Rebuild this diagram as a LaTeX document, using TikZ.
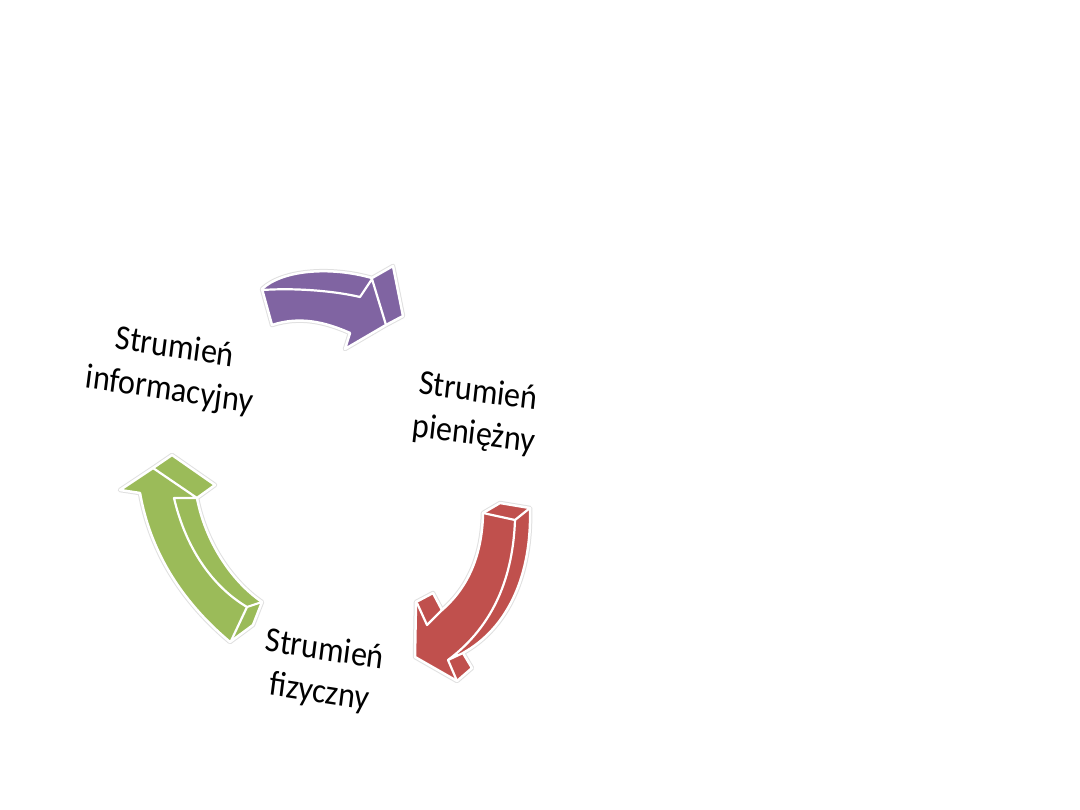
\documentclass[tikz,border=0pt]{standalone}
\usepackage{fontspec}
\setmainfont{Carlito}
\definecolor{purp}{RGB}{128,100,162}
\definecolor{redc}{RGB}{192,80,77}
\definecolor{grn}{RGB}{155,187,89}
\begin{document}
\begin{tikzpicture}[x=1pt,y=-1pt,
  halo/.style={draw=black!12,line width=4.5pt,line join=round},
  body/.style={draw=white,line width=2.5pt,line join=round,preaction={halo}},
  facet/.style={draw=white,line width=2.2pt,line join=round,line cap=round},
  lbl/.style={align=center,inner sep=0pt,yscale=1.1,font=\fontsize{32}{39}\selectfont}]
\useasboundingbox (0,0) rectangle (1080,810);
\fill[white] (0,0) rectangle (1080,810);

% purple arrow (top)
\path[fill=purp,body] (262,289) -- (272,325)
  .. controls (300,316) and (325,322) .. (350,333)
  -- (345,349) -- (386,325) -- (403,316) -- (393,266) -- (372,278)
  .. controls (330,266) and (282,270) .. cycle;
\draw[facet] (263,290) .. controls (290,288) and (330,290) .. (360,297)
  -- (372,279) -- (386,325);

% red arrow (right)
\path[fill=redc,body] (483,513) -- (500,503) -- (530,508)
  .. controls (532,575) and (508,628) .. (463,653)
  -- (472,668) -- (457,681) -- (415,657) -- (416,602) -- (433,593) -- (442,610)
  .. controls (465,590) and (482,560) .. cycle;
\draw[facet] (483,513) -- (515,520) -- (530,508);
\draw[facet] (515,520) .. controls (513,575) and (495,625) .. (448,660)
  -- (463,653);
\draw[facet] (448,660) -- (457,681);
\draw[facet] (417,603) -- (427,625) -- (442,610);

% green arrow (left)
\path[fill=grn,body] (120,490) -- (153,468) -- (172,455) -- (215,485) -- (197,498)
  .. controls (205,540) and (230,580) .. (262,602)
  -- (253,625) -- (230,642)
  .. controls (180,600) and (150,550) .. (140,493) -- cycle;
\draw[facet] (153,468) -- (197,498) -- (174,498)
  .. controls (185,545) and (210,585) .. (247,607) -- (262,602);
\draw[facet] (247,607) -- (231,641);

% labels
\node[lbl,rotate=-8] (info) at (172,370) {Strumień\\informacyjny};
\node[lbl,rotate=-7] (pien) at (476,414) {Strumień\\pieniężny};
\node[lbl,rotate=-8] (fiz) at (322,672) {Strumień\\fizyczny};
\end{tikzpicture}
\end{document}
